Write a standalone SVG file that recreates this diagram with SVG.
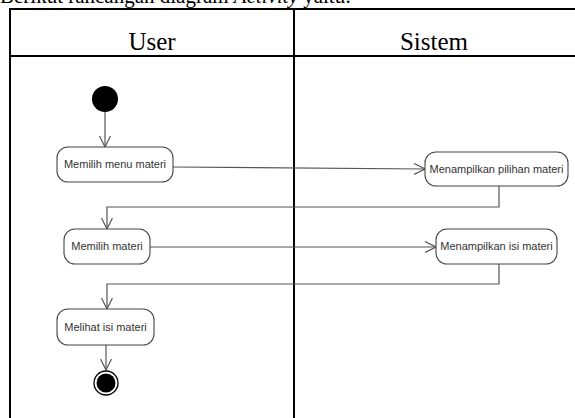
<svg xmlns="http://www.w3.org/2000/svg" width="575" height="418" viewBox="0 0 575 418">
<style>
.lane{stroke:#000;stroke-width:2;fill:none}
.hdr{font-family:"Liberation Serif","Times New Roman",serif;font-size:25px;fill:#000;text-anchor:middle}
.title{font-family:"Liberation Serif","Times New Roman",serif;font-size:21px;fill:#000}
.act{fill:#fff;stroke:#444;stroke-width:1.1}
.lbl{font-family:"Liberation Sans",Arial,sans-serif;font-size:11px;fill:#333;text-anchor:middle}
.edge{stroke:#555;stroke-width:1.2;fill:none;marker-end:url(#arr)}
</style>
<defs>
<marker id="arr" markerWidth="12" markerHeight="12" refX="11" refY="6" orient="auto" markerUnits="userSpaceOnUse">
<path d="M0,0.5 L11,6 L0,11.5" fill="none" stroke="#555" stroke-width="1.2"/>
</marker>
</defs>
<rect width="575" height="418" fill="#fff"/>
<text class="title" x="0" y="3">Berikut rancangan diagram <tspan font-style="italic">Activity</tspan> yaitu:</text>
<g id="swimlanes">
<path class="lane" d="M10,9 H576 M10,56 H576 M10,8 V419 M294,8 V419"/>
<text class="hdr" x="152" y="50">User</text>
<text class="hdr" x="434" y="50">Sistem</text>
</g>
<g id="connectors">
<path class="edge" d="M105,112 V147"/>
<path class="edge" d="M173,167 L425,169"/>
<path class="edge" d="M499,186 V207 H107 V229"/>
<path class="edge" d="M150,247 H436"/>
<path class="edge" d="M499,264 V284 H107 V309"/>
<path class="edge" d="M106,345 V370"/>
</g>
<g id="start"><circle cx="105" cy="99" r="13" fill="#000"/></g>
<g id="memilih-menu-materi">
<rect class="act" x="57" y="147" width="116" height="35" rx="11"/>
<text class="lbl" x="115" y="168">Memilih menu materi</text>
</g>
<g id="menampilkan-pilihan-materi">
<rect class="act" x="425" y="152" width="143" height="34" rx="11"/>
<text class="lbl" x="496.5" y="173">Menampilkan pilihan materi</text>
</g>
<g id="memilih-materi">
<rect class="act" x="64" y="229" width="86" height="35" rx="11"/>
<text class="lbl" x="107" y="250">Memilih materi</text>
</g>
<g id="menampilkan-isi-materi">
<rect class="act" x="436" y="229" width="121" height="35" rx="11"/>
<text class="lbl" x="496.5" y="250">Menampilkan isi materi</text>
</g>
<g id="melihat-isi-materi">
<rect class="act" x="57" y="309" width="97" height="36" rx="11"/>
<text class="lbl" x="105.5" y="331">Melihat isi materi</text>
</g>
<g id="end">
<circle cx="106" cy="383" r="12" fill="#fff" stroke="#000" stroke-width="1.3"/>
<circle cx="106" cy="383" r="9.5" fill="#000"/>
</g>
</svg>
